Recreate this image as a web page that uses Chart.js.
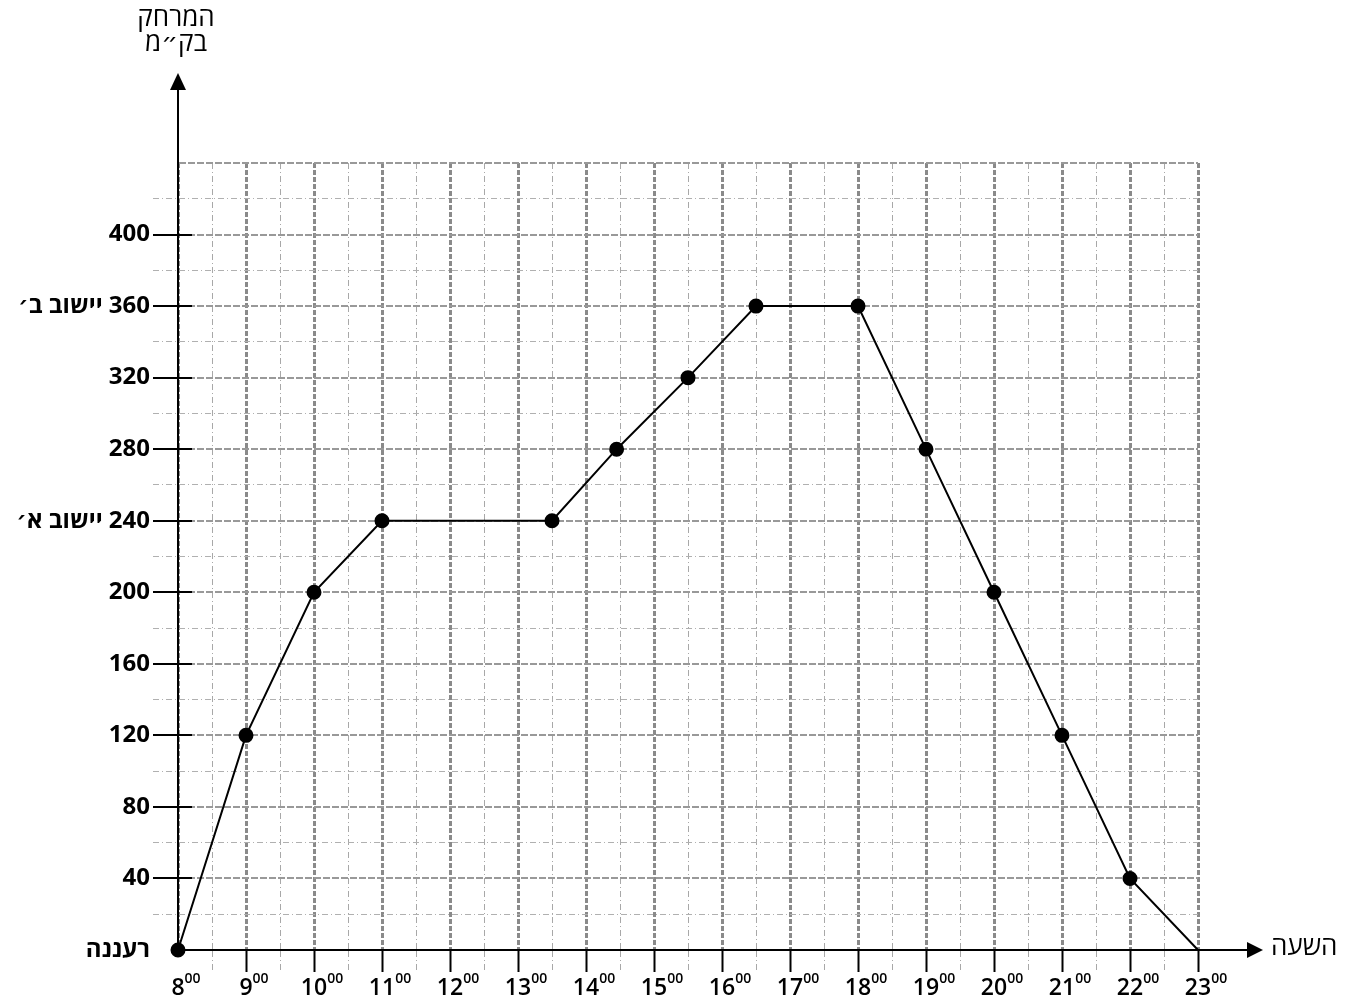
<!DOCTYPE html>
<html><head><meta charset="utf-8">
<script src="https://cdn.jsdelivr.net/npm/chart.js@4/dist/chart.umd.min.js"></script>
<style>html,body{margin:0;padding:0;background:#fff}#c{display:block}</style>
</head><body>
<canvas id="c" width="1347" height="999"></canvas>
<script>
// ---- data ----
const hours = [8, 9, 10, 11, 13.5, 14.45, 15.5, 16.5, 18, 19, 20, 21, 22, 23];
const distances = [0, 120, 200, 240, 240, 280, 320, 360, 360, 280, 200, 120, 40, 0];
const xRange = [8, 23];
const yRange = [0, 440];
const yLabelValues = [40, 80, 120, 160, 200, 240, 280, 320, 360, 400];
const placeValues = [0, 240, 360];
const placeNames = ['רעננה', 'יישוב א׳', 'יישוב ב׳'];
const yTitleLines = ['המרחק', 'בק״מ'];
const xTitle = 'השעה';
const minuteSuffix = '00';

const FONT = "'Open Sans', 'DejaVu Sans', sans-serif";
const X_FONT = {family: FONT, size: 23, weight: '600'};
const minorDash = [6, 3, 1, 3];
const isMajorX = v => v !== null && Math.abs(v - Math.round(v)) < 1e-6;
const isMajorY = v => v !== null && Math.abs(v / 40 - Math.round(v / 40)) < 1e-6;
const tv = c => (c && c.tick) ? c.tick.value : null;

function yLabel(v) {
  const p = placeValues.indexOf(v);
  if (v === 0) return placeNames[p];
  if (p >= 0) return placeNames[p] + '\u200E ' + v;
  if (yLabelValues.includes(v)) return String(v);
  return '';
}

const extras = {
  id: 'extras',
  afterDraw(chart) {
    const {ctx, chartArea: a} = chart;
    const sx = chart.scales.x, sy = chart.scales.y;
    ctx.save();
    ctx.strokeStyle = '#000'; ctx.fillStyle = '#000'; ctx.lineWidth = 2;
    // axis extensions and arrowheads
    ctx.beginPath(); ctx.moveTo(a.left, a.top); ctx.lineTo(a.left, a.top - 78); ctx.stroke();
    ctx.beginPath(); ctx.moveTo(a.left, a.top - 90); ctx.lineTo(a.left - 8, a.top - 73); ctx.lineTo(a.left + 8, a.top - 73); ctx.closePath(); ctx.fill();
    ctx.beginPath(); ctx.moveTo(a.right, a.bottom); ctx.lineTo(a.right + 52, a.bottom); ctx.stroke();
    ctx.beginPath(); ctx.moveTo(a.right + 65, a.bottom); ctx.lineTo(a.right + 49, a.bottom - 8); ctx.lineTo(a.right + 49, a.bottom + 8); ctx.closePath(); ctx.fill();
    // inner part of y major ticks
    sy.ticks.forEach(t => {
      if (yLabelValues.includes(t.value)) {
        const y = Math.round(sy.getPixelForValue(t.value));
        ctx.beginPath(); ctx.moveTo(a.left, y); ctx.lineTo(a.left + 14, y); ctx.stroke();
      }
    });
    // superscript minutes on hour labels
    sx.ticks.forEach(t => {
      if (!isMajorX(t.value)) return;
      ctx.font = `${X_FONT.weight} ${X_FONT.size}px ${FONT}`;
      const w = ctx.measureText(String(t.value)).width;
      const x = sx.getPixelForValue(t.value);
      ctx.font = `600 14px ${FONT}`;
      ctx.textAlign = 'left';
      ctx.textBaseline = 'alphabetic';
      ctx.fillText(minuteSuffix, x + w / 2, a.bottom + 33);
    });
    // titles
    ctx.font = "26px " + FONT;
    ctx.textBaseline = 'middle';
    ctx.textAlign = 'center';
    ctx.fillText(yTitleLines[0], a.left - 2, 19);
    ctx.fillText(yTitleLines[1], a.left - 2, 44);
    ctx.textAlign = 'left';
    ctx.fillText(xTitle, a.right + 73, a.bottom - 2);
    ctx.restore();
  }
};

new Chart(document.getElementById('c'), {
  type: 'scatter',
  data: {
    datasets: [{
      data: hours.map((h, i) => ({x: h, y: distances[i]})),
      showLine: true,
      clip: false,
      borderColor: '#000',
      borderWidth: 2,
      backgroundColor: '#000',
      pointBackgroundColor: '#000',
      pointBorderColor: '#000',
      pointRadius: c => c.dataIndex === hours.length - 1 ? 0 : 6.5,
      pointHoverRadius: c => c.dataIndex === hours.length - 1 ? 0 : 6.5,
      tension: 0
    }]
  },
  options: {
    responsive: false,
    animation: false,
    events: [],
    layout: {padding: {left: 0, top: 163, right: 149, bottom: 0}},
    plugins: {legend: {display: false}, tooltip: {enabled: false}},
    scales: {
      x: {
        type: 'linear', position: 'bottom', min: xRange[0], max: xRange[1],
        afterFit: s => { s.height = 49; },
        ticks: {
          stepSize: 0.5, autoSkip: false, maxRotation: 0, minRotation: 0, padding: 3,
          color: '#000', font: X_FONT,
          callback: v => isMajorX(v) ? String(v) : ''
        },
        grid: {
          color: c => isMajorX(tv(c)) ? '#8a8a8a' : '#a8a8a8',
          lineWidth: c => isMajorX(tv(c)) ? 3 : 1,
          tickLength: 22,
          tickColor: c => tv(c) === xRange[0] ? 'rgba(0,0,0,0)' : (isMajorX(tv(c)) ? '#000' : '#a8a8a8'),
          tickWidth: c => isMajorX(tv(c)) ? 2 : 1,
          tickBorderDash: c => isMajorX(tv(c)) ? [] : minorDash
        },
        border: {display: true, color: '#000', width: 2, dash: c => (c && c.tick) ? (isMajorX(tv(c)) ? [5, 2] : minorDash) : []}
      },
      y: {
        type: 'linear', position: 'left', min: yRange[0], max: yRange[1],
        afterFit: s => { s.width = 178; },
        ticks: {
          stepSize: 20, autoSkip: false, padding: 3,
          color: '#000', font: {family: FONT, size: 24, weight: 'bold'},
          callback: v => yLabel(v)
        },
        grid: {
          color: c => isMajorY(tv(c)) ? '#999' : '#b0b0b0',
          lineWidth: c => isMajorY(tv(c)) ? 2 : 1,
          tickLength: 25,
          tickColor: c => (tv(c) === yRange[0] || tv(c) === yRange[1]) ? 'rgba(0,0,0,0)' : (isMajorY(tv(c)) ? '#000' : '#b0b0b0'),
          tickWidth: c => isMajorY(tv(c)) ? 2 : 1,
          tickBorderDash: c => isMajorY(tv(c)) ? [] : minorDash
        },
        border: {display: true, color: '#000', width: 2, dash: c => (c && c.tick) ? (isMajorY(tv(c)) ? [7, 2] : minorDash) : []}
      }
    }
  },
  plugins: [extras]
});
</script>
</body></html>
